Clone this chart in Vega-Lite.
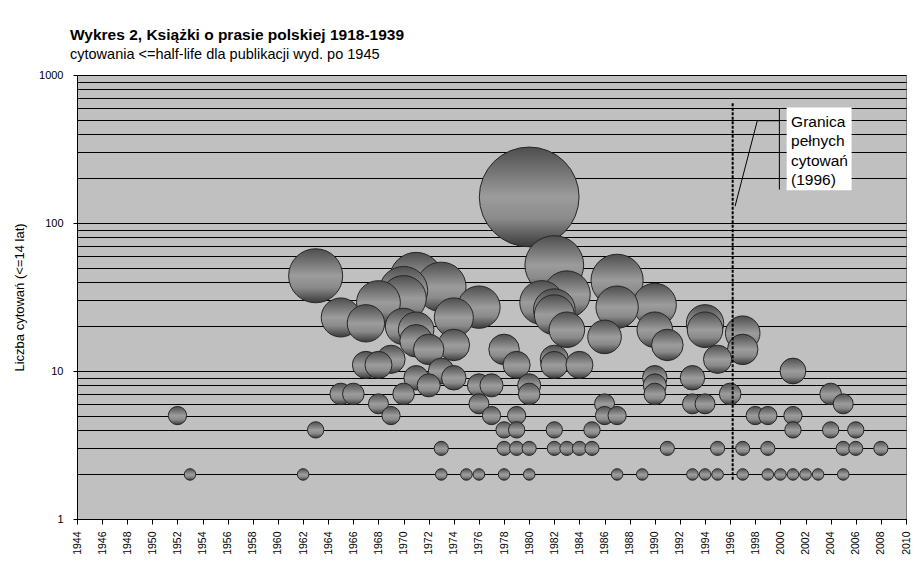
{
  "$schema": "https://vega.github.io/schema/vega-lite/v6.json",
  "width": 829,
  "height": 444,
  "autosize": {"type": "none"},
  "padding": {"left": 77, "top": 75, "right": 12, "bottom": 45},
  "background": "white",
  "title": {
    "text": "Wykres 2, Książki o prasie polskiej 1918-1939",
    "subtitle": "cytowania <=half-life dla publikacji wyd. po 1945",
    "anchor": "start",
    "frame": "group",
    "dx": -7,
    "offset": 8,
    "font": "Liberation Sans",
    "fontSize": 15.5,
    "fontWeight": "bold",
    "color": "#000000",
    "subtitleFont": "Liberation Sans",
    "subtitleFontSize": 14.5,
    "subtitleColor": "#000000",
    "subtitlePadding": 4
  },
  "config": {
    "view": {"fill": "#c0c0c0", "stroke": "#808080", "strokeWidth": 1},
    "font": "Liberation Sans"
  },
  "datasets": {
    "bubbles": [
      {"x": 1952, "y": 5}, {"x": 1953, "y": 2}, {"x": 1962, "y": 2},
      {"x": 1963, "y": 44}, {"x": 1963, "y": 4},
      {"x": 1965, "y": 23}, {"x": 1965, "y": 7}, {"x": 1966, "y": 7},
      {"x": 1967, "y": 21}, {"x": 1967, "y": 11},
      {"x": 1968, "y": 29}, {"x": 1968, "y": 11}, {"x": 1968, "y": 6},
      {"x": 1969, "y": 12}, {"x": 1969, "y": 5},
      {"x": 1970, "y": 35}, {"x": 1970, "y": 31}, {"x": 1970, "y": 20}, {"x": 1970, "y": 7},
      {"x": 1971, "y": 42}, {"x": 1971, "y": 19}, {"x": 1971, "y": 16}, {"x": 1971, "y": 9},
      {"x": 1972, "y": 14}, {"x": 1972, "y": 8},
      {"x": 1973, "y": 37}, {"x": 1973, "y": 10}, {"x": 1973, "y": 3}, {"x": 1973, "y": 2},
      {"x": 1974, "y": 23}, {"x": 1974, "y": 15}, {"x": 1974, "y": 9},
      {"x": 1975, "y": 2},
      {"x": 1976, "y": 27}, {"x": 1976, "y": 8}, {"x": 1976, "y": 6}, {"x": 1976, "y": 2},
      {"x": 1977, "y": 8}, {"x": 1977, "y": 5},
      {"x": 1978, "y": 14}, {"x": 1978, "y": 4}, {"x": 1978, "y": 3}, {"x": 1978, "y": 2},
      {"x": 1979, "y": 11}, {"x": 1979, "y": 5}, {"x": 1979, "y": 4}, {"x": 1979, "y": 3},
      {"x": 1980, "y": 150}, {"x": 1980, "y": 8}, {"x": 1980, "y": 7}, {"x": 1980, "y": 3}, {"x": 1980, "y": 2},
      {"x": 1981, "y": 29},
      {"x": 1982, "y": 52}, {"x": 1982, "y": 26}, {"x": 1982, "y": 24}, {"x": 1982, "y": 12}, {"x": 1982, "y": 11}, {"x": 1982, "y": 4}, {"x": 1982, "y": 3},
      {"x": 1983, "y": 33}, {"x": 1983, "y": 19}, {"x": 1983, "y": 3},
      {"x": 1984, "y": 11}, {"x": 1984, "y": 3},
      {"x": 1985, "y": 4}, {"x": 1985, "y": 3},
      {"x": 1986, "y": 17}, {"x": 1986, "y": 6}, {"x": 1986, "y": 5},
      {"x": 1987, "y": 41}, {"x": 1987, "y": 27}, {"x": 1987, "y": 5}, {"x": 1987, "y": 2},
      {"x": 1989, "y": 2},
      {"x": 1990, "y": 28}, {"x": 1990, "y": 19}, {"x": 1990, "y": 9}, {"x": 1990, "y": 8}, {"x": 1990, "y": 7},
      {"x": 1991, "y": 15}, {"x": 1991, "y": 3},
      {"x": 1993, "y": 9}, {"x": 1993, "y": 6}, {"x": 1993, "y": 2},
      {"x": 1994, "y": 21}, {"x": 1994, "y": 19}, {"x": 1994, "y": 6}, {"x": 1994, "y": 2},
      {"x": 1995, "y": 12}, {"x": 1995, "y": 3}, {"x": 1995, "y": 2},
      {"x": 1996, "y": 7},
      {"x": 1997, "y": 18}, {"x": 1997, "y": 14}, {"x": 1997, "y": 3}, {"x": 1997, "y": 2},
      {"x": 1998, "y": 5},
      {"x": 1999, "y": 5}, {"x": 1999, "y": 3}, {"x": 1999, "y": 2},
      {"x": 2000, "y": 2},
      {"x": 2001, "y": 10}, {"x": 2001, "y": 5}, {"x": 2001, "y": 4}, {"x": 2001, "y": 2},
      {"x": 2002, "y": 2}, {"x": 2003, "y": 2},
      {"x": 2004, "y": 7}, {"x": 2004, "y": 4},
      {"x": 2005, "y": 6}, {"x": 2005, "y": 3}, {"x": 2005, "y": 2},
      {"x": 2006, "y": 4}, {"x": 2006, "y": 3},
      {"x": 2008, "y": 3}
    ],
    "limit": [{"x": 1996.2, "y": 1.84, "y2": 656}],
    "leader": [
      {"x": 1996.39, "y": 129.7, "o": 1},
      {"x": 1998.16, "y": 490.8, "o": 2},
      {"x": 1999.92, "y": 490.8, "o": 3}
    ],
    "bracket": [{"x": 1999.92, "y": 168.3, "y2": 591.6}],
    "box": [{"x": 2000.5, "x2": 2005.67, "y": 166.4, "y2": 603.7}],
    "note": [
      {"x": 2000.85, "y": 444, "t": "Granica"},
      {"x": 2000.85, "y": 328.8, "t": "pełnych"},
      {"x": 2000.85, "y": 243.4, "t": "cytowań"},
      {"x": 2000.85, "y": 179.9, "t": "(1996)"}
    ]
  },
  "encoding": {
    "x": {
      "field": "x",
      "type": "quantitative",
      "scale": {"domain": [1944, 2010], "nice": false, "zero": false},
      "axis": {
        "title": null,
        "values": [1944, 1946, 1948, 1950, 1952, 1954, 1956, 1958, 1960, 1962, 1964, 1966, 1968, 1970, 1972, 1974, 1976, 1978, 1980, 1982, 1984, 1986, 1988, 1990, 1992, 1994, 1996, 1998, 2000, 2002, 2004, 2006, 2008, 2010],
        "format": "d",
        "labelAngle": -90,
        "labelFont": "Liberation Sans",
        "labelFontSize": 10.5,
        "labelColor": "#000000",
        "labelPadding": 7,
        "labelOverlap": false,
        "labelFlush": false,
        "tickSize": 5,
        "tickColor": "#000000",
        "domainColor": "#000000",
        "grid": false
      }
    },
    "y": {
      "field": "y",
      "type": "quantitative",
      "scale": {"type": "log", "domain": [1, 1000], "nice": false},
      "axis": {
        "title": "Liczba cytowań (<=14 lat)",
        "titleFont": "Liberation Sans",
        "titleFontSize": 13,
        "titleFontWeight": "normal",
        "titleColor": "#000000",
        "titlePadding": 12,
        "values": [1, 2, 3, 4, 5, 6, 7, 8, 9, 10, 20, 30, 40, 50, 60, 70, 80, 90, 100, 200, 300, 400, 500, 600, 700, 800, 900, 1000],
        "format": "d",
        "labelExpr": "(datum.value == 1 || datum.value == 10 || datum.value == 100 || datum.value == 1000) ? datum.label : ''",
        "labelFont": "Liberation Sans",
        "labelFontSize": 11,
        "labelColor": "#000000",
        "labelPadding": 10,
        "labelOverlap": false,
        "labelFlush": false,
        "tickSize": 4,
        "tickColor": "#000000",
        "tickOpacity": {"condition": {"test": "datum.value == 1 || datum.value == 10 || datum.value == 100 || datum.value == 1000", "value": 1}, "value": 0},
        "domainColor": "#000000",
        "grid": true,
        "gridColor": "#000000",
        "gridOpacity": 1,
        "gridWidth": 1
      }
    }
  },
  "layer": [
    {
      "data": {"name": "bubbles"},
      "mark": {
        "type": "point",
        "shape": "circle",
        "filled": true,
        "opacity": 1,
        "fill": {
          "gradient": "linear",
          "x1": 0, "y1": 0, "x2": 0, "y2": 1,
          "stops": [
            {"offset": 0, "color": "#4e4e4e"},
            {"offset": 0.5, "color": "#9c9c9c"},
            {"offset": 0.72, "color": "#8a8a8a"},
            {"offset": 1, "color": "#3a3a3a"}
          ]
        },
        "stroke": "#262626",
        "strokeWidth": 1
      },
      "encoding": {
        "size": {"field": "y", "type": "quantitative", "scale": {"type": "linear", "domain": [0, 150], "range": [0, 9950]}, "legend": null},
        "order": {"field": "y", "type": "quantitative", "sort": "descending"}
      }
    },
    {
      "data": {"name": "limit"},
      "mark": {"type": "rule", "color": "#000000", "strokeWidth": 2, "strokeDash": [3, 1.5]},
      "encoding": {"y2": {"field": "y2"}}
    },
    {
      "data": {"name": "leader"},
      "mark": {"type": "line", "color": "#000000", "strokeWidth": 1},
      "encoding": {"order": {"field": "o", "type": "quantitative"}}
    },
    {
      "data": {"name": "bracket"},
      "mark": {"type": "rule", "color": "#000000", "strokeWidth": 1},
      "encoding": {"y2": {"field": "y2"}}
    },
    {
      "data": {"name": "box"},
      "mark": {"type": "rect", "fill": "#ffffff", "stroke": null},
      "encoding": {"x2": {"field": "x2"}, "y2": {"field": "y2"}}
    },
    {
      "data": {"name": "note"},
      "mark": {"type": "text", "align": "left", "baseline": "alphabetic", "font": "Liberation Sans", "fontSize": 15.5, "color": "#000000"},
      "encoding": {"text": {"field": "t", "type": "nominal"}}
    }
  ]
}
